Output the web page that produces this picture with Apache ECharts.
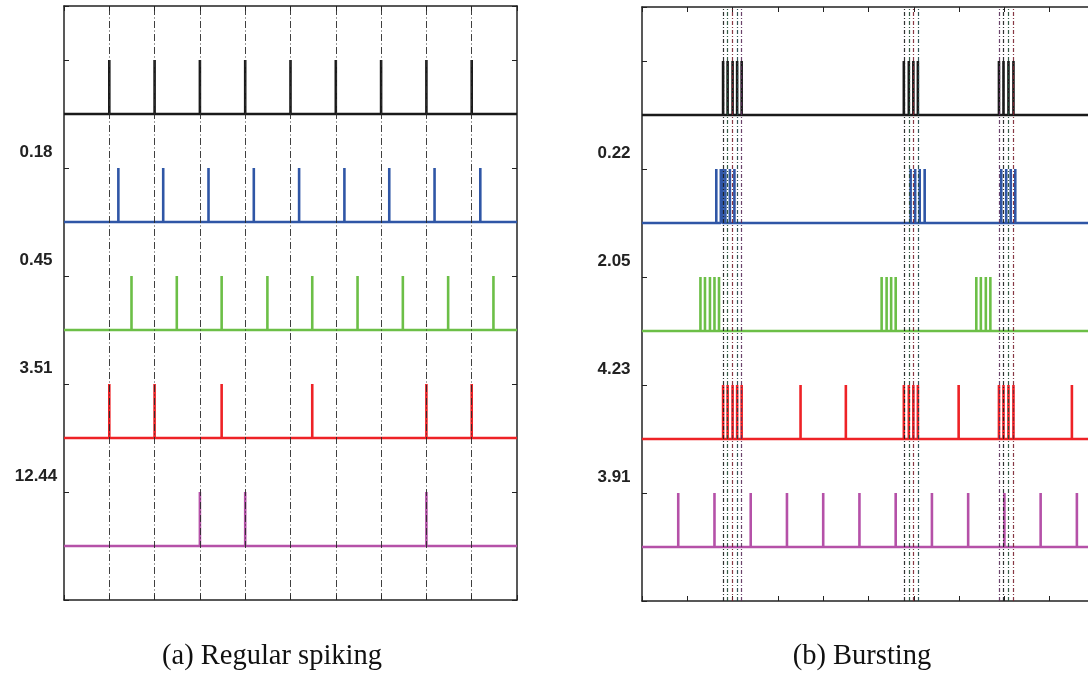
<!DOCTYPE html>
<html>
<head>
<meta charset="utf-8">
<script src="https://cdn.jsdelivr.net/npm/echarts@6/dist/echarts.min.js"></script>
<style>
  html, body { margin: 0; padding: 0; background: #fff; overflow: hidden; }
  #main { width: 1100px; height: 682px; }
</style>
</head>
<body>
<div id="main"></div>
<script>
// spike times (x in tenths of the window, 0..10)
let rowBase = [4.5, 3.5, 2.5, 1.5, 0.5];
let rowColor = ['#1a1a1a', '#2f56a6', '#6cbf47', '#ee2226', '#b551a8'];

// (a) regular spiking
let regBlack = [1, 2, 3, 4, 5, 6, 7, 8, 9];
let regBlue = [1.2, 2.19, 3.19, 4.19, 5.19, 6.19, 7.18, 8.18, 9.19];
let regGreen = [1.49, 2.49, 3.48, 4.49, 5.48, 6.48, 7.48, 8.48, 9.48];
let regRed = [1, 2, 3.48, 5.48, 8, 9];
let regMagenta = [3, 4, 8];
let regLabels = ['', '0.18', '0.45', '3.51', '12.44'];

// (b) bursting
let burBlack = [1.79, 1.89, 2.0, 2.1, 2.2, 5.78, 5.89, 5.99, 6.09, 7.88, 7.98, 8.09, 8.2];
let burBlue = [1.64, 1.74, 1.78, 1.84, 1.94, 2.04, 5.93, 6.03, 6.13, 6.24, 7.93, 8.04, 8.14, 8.24];
let burGreen = [1.29, 1.39, 1.5, 1.6, 1.7, 5.29, 5.4, 5.5, 5.6, 7.38, 7.48, 7.59, 7.69];
let burRed = [1.79, 1.89, 2.0, 2.1, 2.2, 3.5, 4.5, 5.78, 5.89, 5.99, 6.09, 6.99, 7.88, 7.98, 8.09, 8.2, 9.49];
let burMagenta = [0.8, 1.6, 2.4, 3.2, 4.0, 4.8, 5.6, 6.4, 7.2, 8.0, 8.8, 9.6];
let burLabels = ['', '0.22', '2.05', '4.23', '3.91'];

let burDashColors = ['#1c1c1c', '#1f4a33', '#7a2230', '#1e4444', '#5a2d5a'];

let chart = echarts.init(document.getElementById('main'));

function train(times, base) {
    let d = [[0, base]];
    for (let i = 0; i < times.length; i++) {
        d.push([times[i], base], [times[i], base + 0.5], [times[i], base]);
    }
    d.push([10, base]);
    return d;
}

function xAx(grid, pos) {
    return {
        type: 'value', gridIndex: grid, position: pos, min: 0, max: 10, interval: 1,
        axisLine: { show: true, onZero: false, lineStyle: { color: '#222', width: 1.5 } },
        axisTick: { show: true, inside: true, length: 5, lineStyle: { color: '#222', width: 1 } },
        axisLabel: { show: false }, splitLine: { show: false }
    };
}
function yAx(grid, pos) {
    return {
        type: 'value', gridIndex: grid, position: pos, min: 0, max: 5.5, interval: 1,
        axisLine: { show: true, onZero: false, lineStyle: { color: '#222', width: 1.5 } },
        axisTick: { show: true, inside: true, length: 5, lineStyle: { color: '#222', width: 1 } },
        axisLabel: { show: false }, splitLine: { show: false }
    };
}

let series = [];
function addPanel(grid, trains, dashTimes, dashColors, dashType, dashWidth) {
    for (let i = 0; i < trains.length; i++) {
        series.push({
            type: 'line', xAxisIndex: grid * 2, yAxisIndex: grid * 2,
            data: train(trains[i], rowBase[i]),
            showSymbol: false, symbol: 'none', animation: false, silent: true,
            lineStyle: { color: rowColor[i], width: 2.6, cap: 'butt', join: 'bevel' },
            z: 2
        });
    }
    let ml = [];
    for (let i = 0; i < dashTimes.length; i++) {
        ml.push({ xAxis: dashTimes[i], lineStyle: { color: dashColors[i % dashColors.length] } });
    }
    series.push({
        type: 'line', xAxisIndex: grid * 2, yAxisIndex: grid * 2, data: [],
        animation: false, silent: true, z: 5,
        markLine: {
            silent: true, animation: false, symbol: ['none', 'none'],
            label: { show: false },
            lineStyle: { width: dashWidth, type: dashType, opacity: 0.9 },
            data: ml
        }
    });
}

addPanel(0, [regBlack, regBlue, regGreen, regRed, regMagenta], regBlack, ['#2a2a2a'], [7, 2.5, 1, 2.5], 1);
addPanel(1, [burBlack, burBlue, burGreen, burRed, burMagenta], burBlack, burDashColors, [4, 2, 1, 2], 1.2);

chart.setOption({
    backgroundColor: '#fff',
    animation: false,
    grid: [
        { left: 64, top: 6, width: 453, height: 594 },
        { left: 642, top: 7, width: 453, height: 594 }
    ],
    xAxis: [xAx(0, 'bottom'), xAx(0, 'top'), xAx(1, 'bottom'), xAx(1, 'top')],
    yAxis: [yAx(0, 'left'), yAx(0, 'right'), yAx(1, 'left'), yAx(1, 'right')],
    series: series
});

// row values and captions
let graphics = [];
function addLabels(grid, labels) {
    let x0 = chart.convertToPixel({ xAxisIndex: grid * 2 }, 0) - 28;
    for (let i = 0; i < labels.length; i++) {
        if (!labels[i]) continue;
        let y = chart.convertToPixel({ yAxisIndex: grid * 2 }, rowBase[i] + 0.645);
        graphics.push({
            type: 'text', x: x0, y: y,
            style: {
                text: labels[i], fill: '#222', align: 'center', verticalAlign: 'middle',
                font: 'bold 17px "Liberation Sans", Arial, sans-serif'
            }
        });
    }
}
addLabels(0, regLabels);
addLabels(1, burLabels);

graphics.push({
    type: 'text', x: 272, y: 657,
    style: { text: '(a) Regular spiking', fill: '#111', align: 'center', verticalAlign: 'middle',
             font: '28.5px "Liberation Serif", "Times New Roman", serif' }
});
graphics.push({
    type: 'text', x: 862, y: 657,
    style: { text: '(b) Bursting', fill: '#111', align: 'center', verticalAlign: 'middle',
             font: '28.5px "Liberation Serif", "Times New Roman", serif' }
});

chart.setOption({ graphic: graphics });
</script>
</body>
</html>
